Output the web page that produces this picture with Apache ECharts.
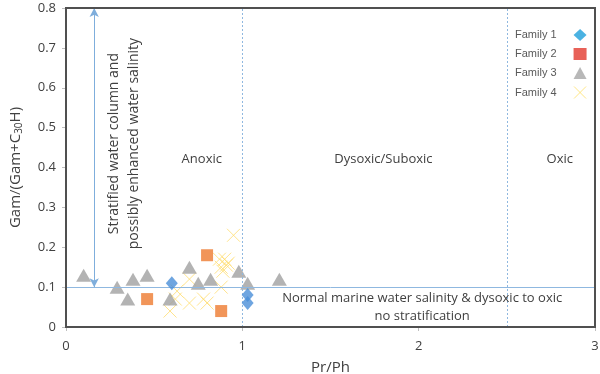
<!DOCTYPE html>
<html><head><meta charset="utf-8">
<script src="https://cdn.jsdelivr.net/npm/echarts@6/dist/echarts.min.js"></script>
<style>html,body{margin:0;padding:0;background:#fff}#c{width:600px;height:374px}</style>
</head><body><div id="c"></div>
<script>
const seriesNames = ['Family 1','Family 2','Family 3','Family 4'];
const family1 = [[0.60,0.11],[1.03,0.08],[1.03,0.06]];
const family2 = [[0.46,0.07],[0.80,0.18],[0.88,0.04]];
const family3 = [[0.10,0.13],[0.29,0.10],[0.35,0.07],[0.38,0.12],[0.46,0.13],[0.59,0.07],[0.70,0.15],[0.75,0.11],[0.82,0.12],[0.98,0.14],[1.03,0.11],[1.21,0.12]];
const family4 = [[0.95,0.23],[0.87,0.17],[0.90,0.17],[0.88,0.15],[0.91,0.155],[0.89,0.14],[0.70,0.12],[0.63,0.09],[0.88,0.10],[0.59,0.04],[0.70,0.06],[0.78,0.07],[0.80,0.06],[0.62,0.07],[0.92,0.16]];
const xTicks = [0,1,2,3];
const yTicks = [0,0.1,0.2,0.3,0.4,0.5,0.6,0.7,0.8];
const boundaryX = [1, 2.5];
const boundaryY = 0.1;
const arrowX = 0.16;
const regionLabels = [
  {text:'Anoxic', coord:[0.77,0.42]},
  {text:'Dysoxic/Suboxic', coord:[1.8,0.42]},
  {text:'Oxic', coord:[2.8,0.42]}
];

const txt = '#404040';
const blue = '#8FB8E0';
const edgeColor = '#505050';
const xMin = xTicks[0], xMax = xTicks[xTicks.length-1];
const yMin = yTicks[0], yMax = yTicks[yTicks.length-1];
const chart = echarts.init(document.getElementById('c'), null, {renderer:'canvas'});
const crossPath = 'path://M0,0 L10,10 M10,0 L0,10';
chart.setOption({
  animation:false,
  grid:{left:66, top:8, right:5, bottom:47, outerBoundsMode:'none', containLabel:false,
        show:true, borderColor:edgeColor, borderWidth:2},
  legend:{
    orient:'vertical', left:510, top:24, align:'right', itemGap:7, itemWidth:13, itemHeight:12,
    textStyle:{color:'#595959', fontSize:11, fontFamily:'Liberation Sans', padding:[0,12,0,0]},
    data:[
      {name:'Family 1', icon:'diamond', itemStyle:{color:'#1E9FDB'}},
      {name:'Family 2', icon:'rect', itemStyle:{color:'#E2392E'}},
      {name:'Family 3', icon:'triangle', itemStyle:{color:'#A6A6A6'}},
      {name:'Family 4', icon:crossPath, itemStyle:{color:'transparent', borderColor:'#FFE066', borderWidth:1}}
    ]
  },
  xAxis:{
    type:'value', min:xMin, max:xMax, interval:1,
    name:'Pr/Ph', nameLocation:'middle', nameGap:33,
    nameTextStyle:{color:txt, fontSize:15, fontFamily:'Open Sans'},
    splitLine:{show:false},
    axisLine:{show:true, lineStyle:{color:edgeColor, width:2}},
    axisTick:{show:true, length:4, lineStyle:{color:'#bfbfbf'}},
    axisLabel:{color:txt, fontSize:13, fontFamily:'Open Sans', margin:13}
  },
  yAxis:{
    type:'value', min:yMin, max:yMax, interval:0.1,
    name:'{a|Gam/(Gam+C}{s|30}{a|H)}', nameLocation:'middle', nameGap:42,
    nameTextStyle:{rich:{
      a:{color:txt, fontSize:15, fontFamily:'Open Sans'},
      s:{color:txt, fontSize:10, fontFamily:'Open Sans', padding:[6,0,0,0]}
    }},
    splitLine:{show:false},
    axisLine:{show:true, lineStyle:{color:edgeColor, width:2}},
    axisTick:{show:true, length:4, lineStyle:{color:'#bfbfbf'}},
    axisLabel:{color:txt, fontSize:13, fontFamily:'Open Sans', margin:10,
      formatter:v=>String(Math.round(v*10)/10)}
  },
  series:[
    {name:seriesNames[0], type:'scatter', data:family1, symbol:'diamond', symbolSize:[12,14],
     itemStyle:{color:'#4A8FD8'}, z:5},
    {name:seriesNames[1], type:'scatter', data:family2, symbol:'rect', symbolSize:12,
     itemStyle:{color:'#EE7A30'}, z:4},
    {name:seriesNames[2], type:'scatter', data:family3, symbol:'triangle', symbolSize:[15,13],
     itemStyle:{color:'#A0A0A0'}, z:3},
    {name:seriesNames[3], type:'scatter', data:family4, symbol:crossPath, symbolSize:13,
     itemStyle:{color:'transparent', borderColor:'#FFDD70', borderWidth:1}, z:2,
     markLine:{
       silent:true, symbol:['none','none'], label:{show:false},
       data:[
         [{coord:[boundaryX[0],yMin], lineStyle:{color:blue, type:[2,2], width:1}},{coord:[boundaryX[0],yMax]}],
         [{coord:[boundaryX[1],yMin], lineStyle:{color:blue, type:[2,2], width:1}},{coord:[boundaryX[1],yMax]}],
         [{coord:[xMin,boundaryY], lineStyle:{color:blue, type:'solid', width:1}},{coord:[xMax,boundaryY]}],
         [{coord:[arrowX,yMax], symbol:'arrow', symbolSize:[7,9], lineStyle:{color:'#7FAEDC', type:'solid', width:1}},{coord:[arrowX,boundaryY], symbol:'arrow', symbolSize:[7,9]}]
       ]
     },
     markPoint:{
       silent:true, symbol:'circle', symbolSize:1, itemStyle:{color:'rgba(255,255,255,0)'},
       label:{show:true, color:txt, fontSize:13, fontFamily:'Open Sans'},
       data: regionLabels.map(r=>({coord:r.coord, label:{formatter:r.text}})).concat([
         {coord:[0.33,0.46], label:{formatter:'Stratified water column and\npossibly enhanced water salinity', fontSize:14, rotate:90, lineHeight:20, align:'center', verticalAlign:'middle'}},
         {coord:[2.02,0.05], label:{formatter:'Normal marine water salinity & dysoxic to oxic\nno stratification', lineHeight:18, align:'center', verticalAlign:'middle'}}
       ])
     }
    }
  ]
});
const p0 = chart.convertToPixel({gridIndex:0}, [xMin, yMax]);
const p1 = chart.convertToPixel({gridIndex:0}, [xMax, yMin]);
if (p0 && p1) {
  chart.setOption({graphic:[{type:'rect', silent:true, z:100,
    shape:{x:p0[0], y:p0[1], width:p1[0]-p0[0], height:p1[1]-p0[1]},
    style:{fill:'none', stroke:edgeColor, lineWidth:2}}]});
}
</script></body></html>
